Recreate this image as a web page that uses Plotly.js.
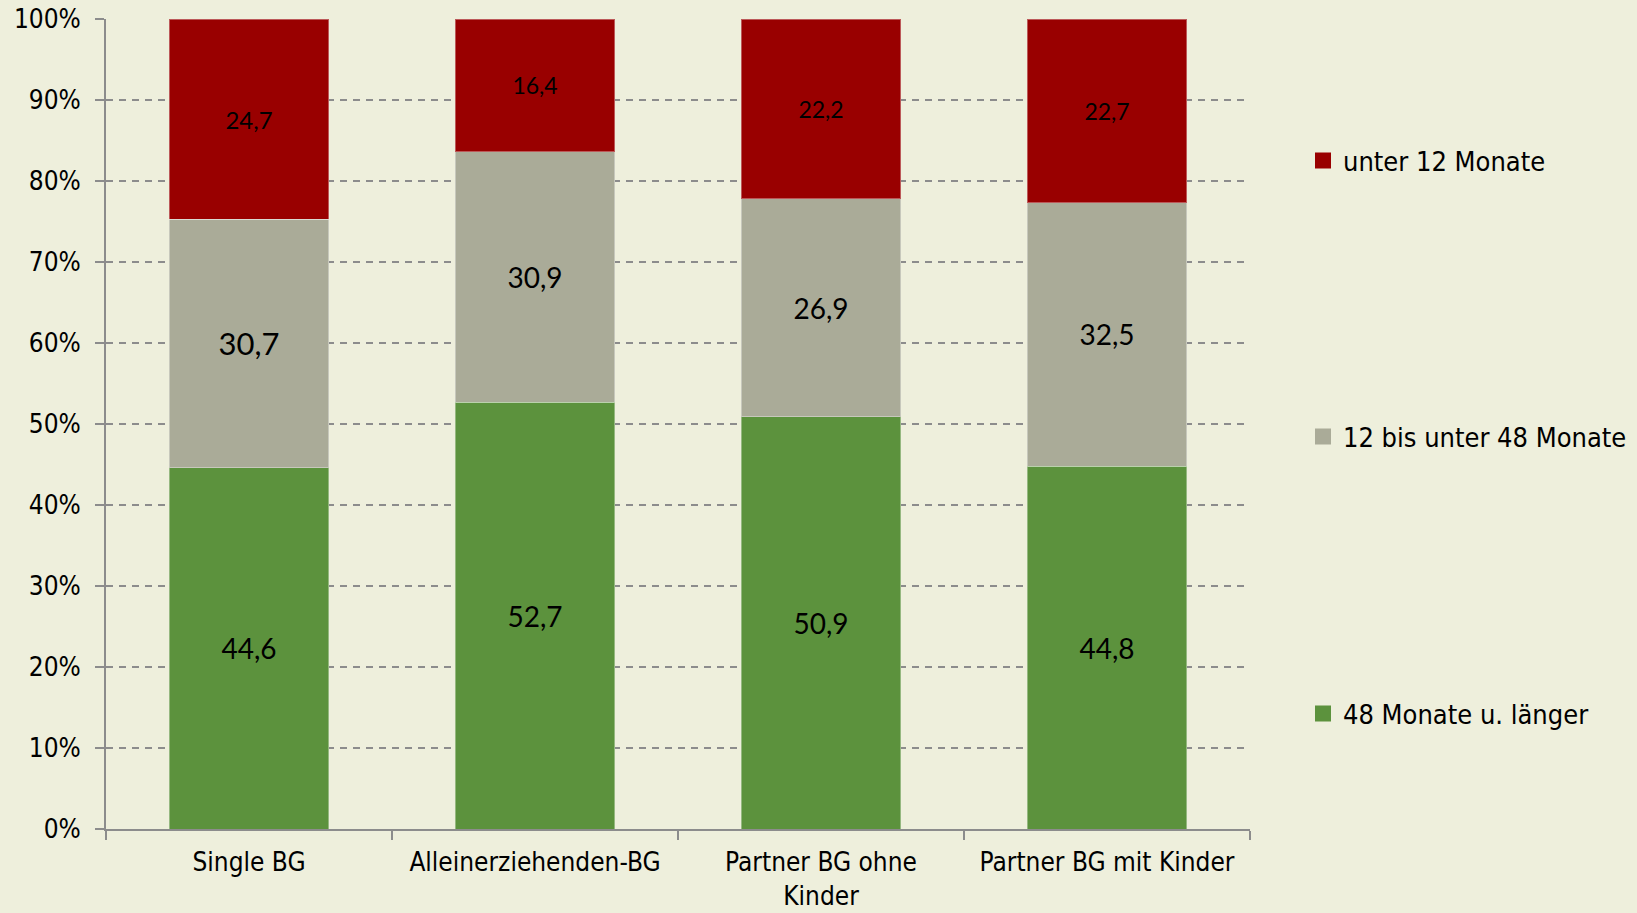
<!DOCTYPE html>
<html>
<head>
<meta charset="utf-8">
<script src="https://cdn.plot.ly/plotly-3.0.1.min.js"></script>
<style>
html,body{margin:0;padding:0;background:#EEEFDC;}
#chart{width:1637px;height:913px;}
</style>
</head>
<body>
<div id="chart"></div>
<script>
// Data
const categories = ["Single BG", "Alleinerziehenden-BG", "Partner BG ohne<br>Kinder", "Partner BG mit Kinder"];
const seriesNames = ["48 Monate u. länger", "12 bis unter 48 Monate", "unter 12 Monate"];
const longTerm = [44.6, 52.7, 50.9, 44.8];     // 48 Monate u. länger
const midTerm  = [30.7, 30.9, 26.9, 32.5];     // 12 bis unter 48 Monate
const shortTerm = [24.7, 16.4, 22.2, 22.7];    // unter 12 Monate
const yTickVals = [0,10,20,30,40,50,60,70,80,90,100];

// Styles
const colors = ["#5C923D", "#AAAB98", "#990000"];
const labelSizes = [
  [28, 28, 28, 28],
  [31, 28, 28, 28],
  [24, 23, 23, 23]
];
const legendIds = ["legend3", "legend2", "legend"];

const fmt = v => v.toFixed(1).replace('.', ',');
const seriesData = [longTerm, midTerm, shortTerm];

const barTraces = seriesData.map((vals, i) => ({
  type: 'bar',
  name: seriesNames[i],
  x: categories,
  y: vals,
  text: vals.map(fmt),
  textposition: 'inside',
  insidetextanchor: 'middle',
  textangle: 0,
  constraintext: 'none',
  textfont: {family: 'Lato, "Liberation Sans", sans-serif', size: labelSizes[i], color: '#000000'},
  marker: {color: colors[i], line: {color: 'rgba(255,255,255,0.35)', width: 1}},
  showlegend: false,
  hoverinfo: 'none'
}));

// legend entries (square swatches)
const legendTraces = seriesNames.map((nm, i) => ({
  type: 'scatter',
  mode: 'markers',
  name: nm,
  x: [null],
  y: [null],
  marker: {symbol: 'square', size: 16, color: colors[i]},
  legend: legendIds[i],
  showlegend: true,
  hoverinfo: 'none'
}));

const plotL = 106, plotR = 1250, plotT = 19, plotB = 829;
const W = 1637, H = 913;
const pw = plotR - plotL, ph = plotB - plotT;
const lx = (1303 - plotL) / pw;
const legY = px => (plotB - px) / ph;
const legendFont = {family: '"DejaVu Sans Condensed", "DejaVu Sans", sans-serif', size: 27, color: '#000000'};
const legendBase = {
  x: lx, xanchor: 'left', yanchor: 'middle',
  bgcolor: 'rgba(0,0,0,0)', borderwidth: 0,
  font: legendFont
};

const layout = {
  width: W, height: H,
  margin: {l: plotL, r: W - plotR, t: plotT, b: H - plotB, pad: 0, autoexpand: false},
  paper_bgcolor: '#EEEFDC',
  plot_bgcolor: '#EEEFDC',
  barmode: 'stack',
  bargap: 0.444,
  showlegend: true,
  legend:  Object.assign({}, legendBase, {y: legY(161)}),
  legend2: Object.assign({}, legendBase, {y: legY(437)}),
  legend3: Object.assign({}, legendBase, {y: legY(714)}),
  xaxis: {
    type: 'category',
    showline: true, linecolor: '#8C8C8C', linewidth: 2,
    ticks: 'outside', tickson: 'boundaries', ticklen: 9, tickwidth: 2, tickcolor: '#8C8C8C',
    showgrid: false, zeroline: false,
    tickfont: {family: '"DejaVu Sans Condensed", "DejaVu Sans", sans-serif', size: 26, color: '#000000'},
    ticklabelstandoff: 9
  },
  yaxis: {
    range: [0, 100],
    tickvals: yTickVals,
    ticktext: yTickVals.map(v => v + '%'),
    showline: true, linecolor: '#8C8C8C', linewidth: 2,
    ticks: 'outside', ticklen: 9, tickwidth: 2, tickcolor: '#8C8C8C',
    showgrid: true, gridcolor: '#8C8C8C', gridwidth: 2, griddash: '7px,6px',
    zeroline: false,
    tickfont: {family: '"DejaVu Sans Condensed", "DejaVu Sans", sans-serif', size: 26, color: '#000000'},
    ticklabelstandoff: 9
  },
  font: {family: '"DejaVu Sans Condensed", "DejaVu Sans", sans-serif', color: '#000000'}
};

Plotly.newPlot('chart', barTraces.concat(legendTraces), layout, {staticPlot: true, displayModeBar: false});
</script>
</body>
</html>
